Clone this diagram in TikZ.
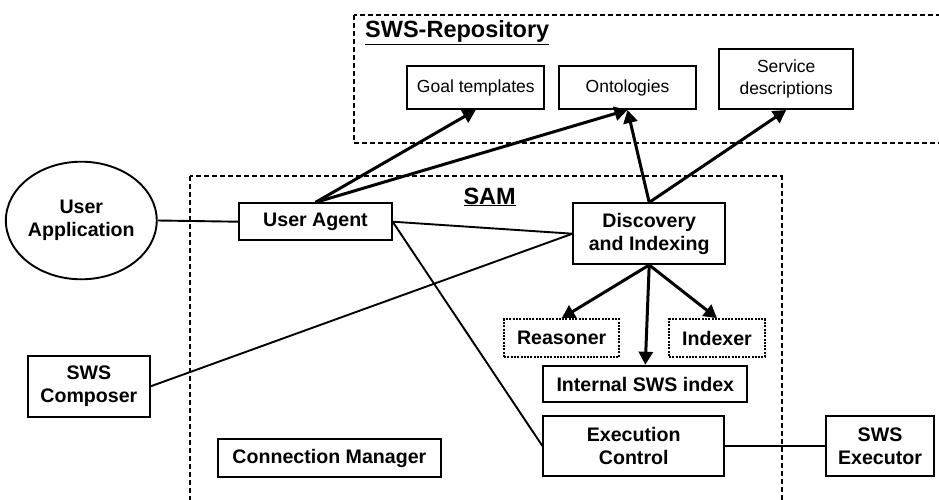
\documentclass[tikz,border=0pt]{standalone}
\usepackage{fontspec}
\setmainfont{Liberation Sans}
\usetikzlibrary{arrows.meta,shapes.geometric}

\begin{document}
\begin{tikzpicture}[x=1pt,y=-1pt,
  box/.style={draw,line width=1.9pt,inner sep=0pt,align=center,
    font=\fontsize{17.5}{22}\selectfont},
  part/.style={draw,line width=1.9pt,inner sep=0pt,align=center,
    font=\fontsize{19.6}{23.3}\selectfont\bfseries},
  plugin/.style={part,line width=2.2pt,dash pattern=on 2pt off 1.3pt},
  area/.style={draw,line width=2pt,dash pattern=on 5pt off 3pt},
  title/.style={anchor=base west,inner sep=0pt,
    font=\fontsize{23.5}{28}\selectfont\bfseries},
  link/.style={line width=1.9pt},
  feed/.style={line width=3pt,-{Triangle[length=13pt,width=14pt]}}]
\useasboundingbox (0,0) rectangle (939,500);
\clip (0,0) rectangle (939,500);

% repository and SAM areas
\draw[area] (354,15) rectangle (960,142.7);
\draw[area] (190,176) rectangle (781.7,530);
\node[title] (repotitle) at (365,37.7) {\underline{SWS-Repository}};
\node[title] (samtitle) at (463.3,204) {\underline{SAM}};

% repository contents
\node[box,minimum width=137pt,minimum height=43pt] (goal) at (475.8,87.5) {Goal templates};
\node[box,minimum width=136.4pt,minimum height=43pt] (onto) at (627.5,87.5) {Ontologies};
\node[box,minimum width=134.3pt,minimum height=59.7pt] (service) at (786.2,79.2) {Service\\descriptions};

% outside SAM
\node[part,ellipse,minimum width=137.4pt,minimum height=117.6pt] (userapp) at (81.3,220.5) {User\\Application};
\node[part,minimum width=122.3pt,minimum height=61pt] (composer) at (88.9,386.2) {SWS\\Composer};
\node[part,minimum width=108.6pt,minimum height=60pt] (executor) at (880,446) {SWS\\Executor};

% SAM components
\node[part,minimum width=152.4pt,minimum height=36.7pt] (ua) at (315.5,221.7) {User Agent};
\node[part,minimum width=151.7pt,minimum height=60.7pt] (di) at (649.2,233.7) {Discovery\\and Indexing};
\node[plugin,minimum width=115.3pt,minimum height=37.4pt] (reasoner) at (561.7,338) {Reasoner};
\node[plugin,minimum width=96pt,minimum height=37.4pt] (indexer) at (717,338) {Indexer};
\node[part,minimum width=204pt,minimum height=36.6pt] (index) at (645.3,384) {Internal SWS index};
\node[part,minimum width=180.7pt,minimum height=60pt] (exec) at (633.7,446) {Execution\\Control};
\node[part,minimum width=223.3pt,minimum height=37.4pt] (conn) at (329.4,458) {Connection Manager};

% plain links
\draw[link] (userapp.east) -- (ua.west);
\draw[link] (ua.east) -- (di.west);
\draw[link] (composer.east) -- (di.west);
\draw[link] (ua.east) -- (exec.west);
\draw[link] (exec.east) -- (executor.west);

% arrows
\draw[feed] (ua.north) -- (goal.south);
\draw[feed] (ua.north) -- (onto.south);
\draw[feed] (di.north) -- (onto.south);
\draw[feed] (di.north) -- (service.south);
\draw[feed] (di.south) -- (reasoner.north);
\draw[feed] (di.south) -- (index.north);
\draw[feed] (di.south) -- (indexer.north);

\end{tikzpicture}
\end{document}
